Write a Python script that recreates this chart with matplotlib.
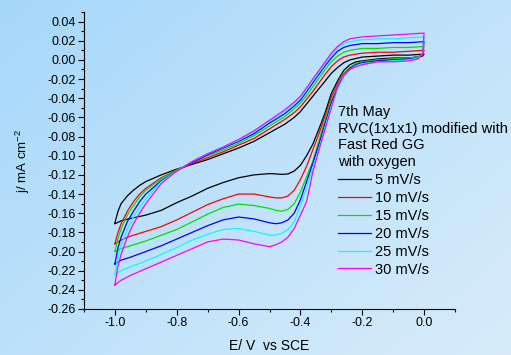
import numpy as np
import matplotlib
matplotlib.use("Agg")
import matplotlib.pyplot as plt
from matplotlib.ticker import MultipleLocator, FormatStrFormatter

plt.rcParams['font.family'] = ['Liberation Sans', 'DejaVu Sans']
plt.rcParams['mathtext.default'] = 'regular'

# potential grid for the forward (anodic) scan, -1.0 -> 0.0 V
e_up = [-1.0, -0.99, -0.98, -0.96, -0.94, -0.92, -0.9, -0.85, -0.8, -0.75, -0.7,
        -0.65, -0.6, -0.55, -0.5, -0.45, -0.42, -0.4, -0.38, -0.36, -0.34, -0.32,
        -0.3, -0.28, -0.26, -0.24, -0.2, -0.15, -0.1, -0.05, 0.0]
# potential grid for the reverse (cathodic) scan, 0.0 -> -1.0 V
e_down = [0.0, -0.005, -0.02, -0.05, -0.1, -0.15, -0.2, -0.22, -0.24, -0.26, -0.28,
          -0.3, -0.32, -0.34, -0.36, -0.38, -0.4, -0.42, -0.44, -0.46, -0.48, -0.5,
          -0.55, -0.6, -0.65, -0.7, -0.75, -0.8, -0.85, -0.9, -0.95, -0.98, -1.0]

# current density, mA cm-2
j_up_5 = [-0.170, -0.158, -0.150, -0.142, -0.136, -0.131, -0.127, -0.120, -0.114, -0.109, -0.104,
          -0.098, -0.092, -0.085, -0.076, -0.067, -0.060, -0.054, -0.046, -0.038, -0.030, -0.022,
          -0.014, -0.008, -0.003, 0.000, 0.003, 0.004, 0.005, 0.005, 0.006]
j_down_5 = [0.006, 0.004, 0.003, 0.002, 0.002, 0.001, -0.001, -0.002, -0.005, -0.011, -0.022,
            -0.035, -0.055, -0.072, -0.088, -0.100, -0.110, -0.116, -0.119, -0.1195, -0.119, -0.1187,
            -0.120, -0.123, -0.128, -0.134, -0.142, -0.149, -0.157, -0.162, -0.1655, -0.168, -0.171]

j_up_10 = [-0.192, -0.180, -0.171, -0.158, -0.148, -0.140, -0.134, -0.123, -0.115, -0.108, -0.102,
           -0.096, -0.089, -0.082, -0.072, -0.062, -0.055, -0.049, -0.041, -0.033, -0.024, -0.015,
           -0.007, -0.001, 0.003, 0.005, 0.007, 0.008, 0.008, 0.009, 0.010]
j_down_10 = [0.010, 0.005, 0.003, 0.002, 0.001, 0.000, -0.002, -0.004, -0.008, -0.014, -0.025,
             -0.039, -0.058, -0.077, -0.094, -0.111, -0.125, -0.136, -0.142, -0.144, -0.144, -0.143,
             -0.140, -0.140, -0.145, -0.151, -0.159, -0.167, -0.174, -0.179, -0.184, -0.188, -0.192]

j_up_15 = [-0.200, -0.186, -0.176, -0.162, -0.152, -0.143, -0.136, -0.124, -0.115, -0.107, -0.100,
           -0.094, -0.087, -0.079, -0.069, -0.059, -0.051, -0.045, -0.037, -0.028, -0.019, -0.010,
           -0.002, 0.004, 0.008, 0.010, 0.012, 0.012, 0.013, 0.013, 0.014]
j_down_15 = [0.014, 0.006, 0.003, 0.002, 0.001, 0.000, -0.002, -0.004, -0.008, -0.015, -0.027,
             -0.042, -0.062, -0.084, -0.106, -0.122, -0.138, -0.150, -0.156, -0.158, -0.157, -0.155,
             -0.152, -0.1505, -0.154, -0.161, -0.169, -0.177, -0.183, -0.189, -0.194, -0.197, -0.200]

j_up_20 = [-0.213, -0.196, -0.185, -0.169, -0.158, -0.148, -0.140, -0.126, -0.116, -0.107, -0.099,
           -0.092, -0.085, -0.077, -0.066, -0.056, -0.048, -0.042, -0.033, -0.024, -0.015, -0.006,
           0.002, 0.009, 0.013, 0.015, 0.017, 0.017, 0.018, 0.018, 0.019]
j_down_20 = [0.019, 0.006, 0.002, 0.001, 0.000, -0.001, -0.003, -0.005, -0.009, -0.017, -0.029,
             -0.045, -0.066, -0.088, -0.108, -0.127, -0.146, -0.160, -0.167, -0.170, -0.171, -0.170,
             -0.166, -0.164, -0.167, -0.173, -0.180, -0.187, -0.194, -0.200, -0.206, -0.209, -0.213]

j_up_25 = [-0.224, -0.205, -0.194, -0.177, -0.164, -0.154, -0.145, -0.127, -0.116, -0.106, -0.098,
           -0.091, -0.084, -0.075, -0.064, -0.054, -0.046, -0.040, -0.031, -0.022, -0.013, -0.004,
           0.005, 0.012, 0.017, 0.019, 0.021, 0.022, 0.022, 0.023, 0.024]
j_down_25 = [0.024, 0.006, 0.002, 0.000, -0.001, -0.002, -0.004, -0.006, -0.010, -0.018, -0.031,
             -0.048, -0.070, -0.093, -0.113, -0.133, -0.152, -0.169, -0.177, -0.181, -0.183, -0.183,
             -0.179, -0.176, -0.177, -0.182, -0.188, -0.196, -0.203, -0.210, -0.216, -0.220, -0.224]

j_up_30 = [-0.235, -0.215, -0.203, -0.185, -0.171, -0.160, -0.150, -0.129, -0.116, -0.106, -0.098,
           -0.091, -0.083, -0.074, -0.063, -0.052, -0.044, -0.038, -0.029, -0.020, -0.011, -0.002,
           0.007, 0.014, 0.019, 0.022, 0.024, 0.025, 0.026, 0.027, 0.028]
j_down_30 = [0.028, 0.006, 0.001, -0.001, -0.002, -0.002, -0.005, -0.007, -0.010, -0.016, -0.028,
             -0.050, -0.072, -0.094, -0.117, -0.148, -0.162, -0.176, -0.185, -0.190, -0.193, -0.195,
             -0.192, -0.188, -0.187, -0.190, -0.197, -0.204, -0.211, -0.218, -0.225, -0.230, -0.235]

etiquetas = ["5 mV/s", "10 mV/s", "15 mV/s", "20 mV/s", "25 mV/s", "30 mV/s"]
colores = ["black", "#ff0000", "#00e000", "#0000ff", "#00ffff", "#ff00ff"]
barridos = [(j_up_5, j_down_5), (j_up_10, j_down_10), (j_up_15, j_down_15),
            (j_up_20, j_down_20), (j_up_25, j_down_25), (j_up_30, j_down_30)]

fig = plt.figure(figsize=(5.11, 3.55), dpi=100)

# fondo degradado azul claro
fondo = fig.add_axes([0, 0, 1, 1], zorder=-10)
yy, xx = np.mgrid[0:1:200j, 0:1:300j]
t = (0.55 * xx + 0.45 * yy)
c0 = np.array([166, 216, 250]) / 255
c1 = np.array([216, 236, 250]) / 255
img = c0[None, None, :] * (1 - t[..., None]) + c1[None, None, :] * t[..., None]
fondo.imshow(img, aspect='auto', extent=[0, 1, 0, 1], origin='upper')
fondo.axis('off')

ax = fig.add_axes([84 / 511, 1 - 309 / 355, 371 / 511, 297 / 355])
ax.set_facecolor('none')

for (up, down), lab, col in zip(barridos, etiquetas, colores):
    ax.plot(e_up + e_down, up + down, color=col, lw=0.9, label=lab)

ax.set_xlim(-1.1, 0.1)
ax.set_ylim(-0.26, 0.05)
ax.spines['top'].set_visible(False)
ax.spines['right'].set_visible(False)
ax.xaxis.set_major_locator(MultipleLocator(0.2))
ax.xaxis.set_minor_locator(MultipleLocator(0.1))
ax.yaxis.set_major_locator(MultipleLocator(0.02))
ax.yaxis.set_minor_locator(MultipleLocator(0.01))
ax.xaxis.set_major_formatter(FormatStrFormatter('%.1f'))
ax.yaxis.set_major_formatter(FormatStrFormatter('%.2f'))
ax.tick_params(which='both', direction='out', labelsize=9, width=0.8, pad=2)
ax.tick_params(which='major', length=4)
ax.tick_params(which='minor', length=2.5)
ax.set_xlim(-1.1, 0.1)
ax.set_ylim(-0.26, 0.05)

ax.set_xlabel("E/ V  vs SCE", fontsize=10)
ax.set_ylabel("j/ mA cm$^{-2}$", fontsize=9.5)
ax.xaxis.set_label_coords(0.5, -0.100)
ax.yaxis.set_label_coords(-0.139, 0.5)

leg = ax.legend(title="7th May\nRVC(1x1x1) modified with\nFast Red GG\nwith oxygen",
                loc='upper left', bbox_to_anchor=(338 / 511, 1 - 105 / 355),
                bbox_transform=fig.transFigure, frameon=False, fontsize=10.5,
                title_fontsize=10.5, alignment='left', handlelength=2.25,
                handletextpad=0.27, labelspacing=0.27, borderpad=0, borderaxespad=0)
leg.get_title().set_linespacing(1.24)

fig.savefig("out.png", dpi=100)
